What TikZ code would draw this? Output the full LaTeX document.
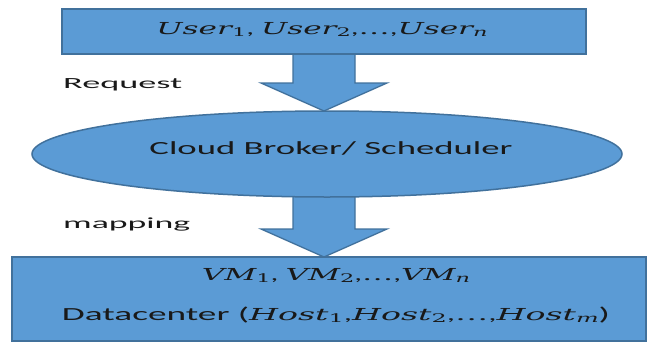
\documentclass[tikz,border=0pt]{standalone}
\usepackage{fontspec}
\setmainfont{Carlito}
\newfontfamily\mserif{DejaVu Serif}
\usepackage{graphicx}
\usetikzlibrary{calc,shapes.geometric}
\definecolor{boxfill}{HTML}{5B9BD5}
\definecolor{boxline}{HTML}{41719C}
\newcommand{\wfit}[2]{\resizebox{#1pt}{\height}{#2}}
\newcommand{\mv}[2]{{\mserif\itshape #1}\raisebox{-0.35ex}{\mserif\scalebox{0.72}{#2}}}
\newcommand{\mdots}{{\mserif …}}
\pgfdeclarelayer{bg}
\pgfsetlayers{bg,main}
\begin{document}
\begin{tikzpicture}[x=1pt,y=-1pt,
  shapebox/.style={draw=boxline, fill=boxfill, line width=1.5pt, inner sep=0pt, outer sep=0pt},
  blockarrow/.style={draw=boxline, fill=boxfill, line width=1.3pt, line join=miter},
  lbl/.style={inner sep=0pt, anchor=base, text=black!90}]
\useasboundingbox (0,0) rectangle (651,343);

% shapes
\node[shapebox, minimum width=524pt, minimum height=45pt] (users) at (324,31.5) {};
\node[shapebox, ellipse, minimum width=590pt, minimum height=86pt] (broker) at (327,154) {};
\node[shapebox, minimum width=634pt, minimum height=84pt] (dc) at (329,299) {};

% block arrows (behind the shapes)
\coordinate (a1s) at (users.south);
\coordinate (a1e) at (users.south |- broker.north);
\coordinate (a2s) at ($(broker.south)+(-3,0)$);
\coordinate (a2e) at (a2s |- dc.north);
\begin{pgfonlayer}{bg}
\draw[blockarrow] ($(a1s)+(-31,-3)$) -- ($(a1s)+(31,-3)$) -- ($(a1e)+(31,-28)$) -- ($(a1e)+(63,-28)$)
  -- (a1e) -- ($(a1e)+(-63,-28)$) -- ($(a1e)+(-31,-28)$) -- cycle;
\draw[blockarrow] ($(a2s)+(-31,-3)$) -- ($(a2s)+(31,-3)$) -- ($(a2e)+(31,-28)$) -- ($(a2e)+(63,-28)$)
  -- (a2e) -- ($(a2e)+(-63,-28)$) -- ($(a2e)+(-31,-28)$) -- cycle;
\end{pgfonlayer}

% texts
\node[lbl, font=\fontsize{16.5}{20}\selectfont] (tusers) at (322,34)
  {\wfit{331}{\mv{User}{1}, \mv{User}{2},\mdots,\mv{User}{\itshape n}}};
\node[lbl, anchor=base west, font=\fontsize{15.5}{18}\selectfont] (treq) at (63,88)
  {\wfit{119}{Request}};
\node[lbl, font=\fontsize{18.5}{22}\selectfont] (tbroker) at (331,154)
  {\wfit{363}{Cloud Broker/ Scheduler}};
\node[lbl, anchor=base west, font=\fontsize{15.5}{18}\selectfont] (tmap) at (63,228)
  {\wfit{127}{mapping}};
\node[lbl, font=\fontsize{16.5}{20}\selectfont] (tvm) at (336,280)
  {\wfit{268}{\mv{VM}{1}, \mv{VM}{2},\mdots,\mv{VM}{\itshape n}}};
\node[lbl, font=\fontsize{18.5}{22}\selectfont] (tdc) at (336,320)
  {\wfit{548}{Datacenter ({\fontsize{16.5}{20}\selectfont\mv{Host}{1},\mv{Host}{2},\mdots,\mv{Host}{\itshape m}})}};
\end{tikzpicture}
\end{document}
